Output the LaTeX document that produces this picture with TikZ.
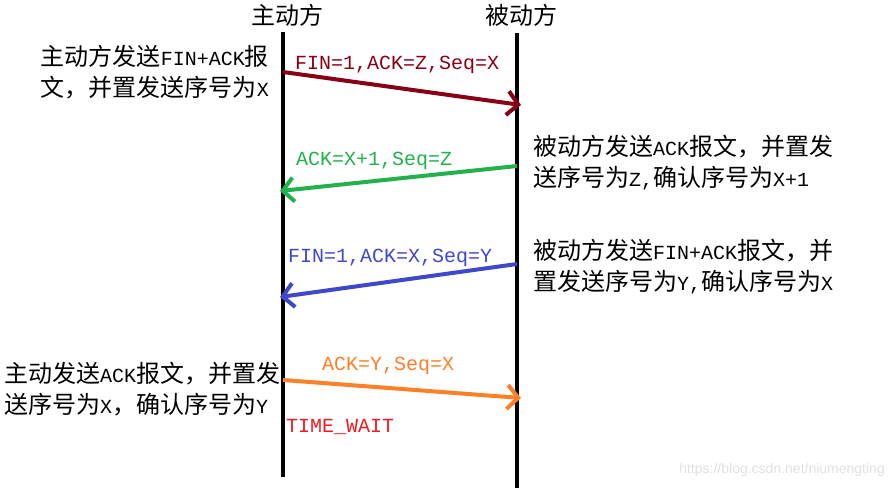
\documentclass[tikz,border=0pt]{standalone}
\usepackage{fontspec}
\setmainfont{Liberation Mono}
\newfontfamily\cjk{Noto Sans CJK SC}
\newfontfamily\wmfont{Liberation Sans}
\usetikzlibrary{arrows.meta}
\definecolor{fincolor}{HTML}{880015}
\definecolor{ackcolor}{HTML}{22B14C}
\definecolor{fin2color}{HTML}{3F48CC}
\definecolor{lastcolor}{HTML}{FF7F27}
\definecolor{waitcolor}{HTML}{ED1C24}
\newcommand{\zh}[1]{{\cjk\fontsize{24}{31}\selectfont #1}}

\begin{document}
\begin{tikzpicture}[
    x=1pt, y=-1pt,
    every node/.style={inner sep=0pt, font=\fontsize{20}{31}\selectfont},
    actor/.style={font=\cjk\fontsize{24}{31}\selectfont},
    note/.style={align=left},
    msg/.style={anchor=base west},
    life/.style={line width=4.5pt},
    arr/.style={line width=4pt, -{Straight Barb[length=11pt, width=24pt]}}
]
    \useasboundingbox (0,0) rectangle (893,489);

    % Lifelines
    \node[actor] (act) at (287,15) {主动方};
    \node[actor] (pas) at (521,15) {被动方};
    \coordinate (acttop) at (283,32);
    \coordinate (actbot) at (283,477);
    \coordinate (pastop) at (517,33);
    \coordinate (pasbot) at (517,488);
    \draw[life] (acttop) -- (actbot);
    \draw[life] (pastop) -- (pasbot);

    % Message ends
    \coordinate (m1s) at (283,72);  \coordinate (m1e) at (521,105);
    \coordinate (m2s) at (517,166); \coordinate (m2e) at (280,191);
    \coordinate (m3s) at (517,264); \coordinate (m3e) at (280,297);
    \coordinate (m4s) at (283,380); \coordinate (m4e) at (521,398);

    % Messages
    \draw[arr, fincolor] (m1s) -- (m1e);
    \draw[arr, ackcolor] (m2s) -- (m2e);
    \draw[arr, fin2color] (m3s) -- (m3e);
    \draw[arr, lastcolor] (m4s) -- (m4e);

    % Message labels
    \node[msg, text=fincolor] (l1) at (295,70) {FIN=1,ACK=Z,Seq=X};
    \node[msg, text=ackcolor] (l2) at (296,166) {ACK=X+1,Seq=Z};
    \node[msg, text=fin2color] (l3) at (288,262) {FIN=1,ACK=X,Seq=Y};
    \node[msg, text=lastcolor] (l4) at (322,370) {ACK=Y,Seq=X};
    \node[msg, text=waitcolor] (wait) at (286,432) {TIME\_WAIT};

    % Notes
    \node[note, anchor=east] (n1) at (269,72.5)
        {\zh{主动方发送}FIN+ACK\zh{报}\\\zh{文，并置发送序号为}X};
    \node[note, anchor=west] (n2) at (533,162.5)
        {\zh{被动方发送}ACK\zh{报文，并置发}\\\zh{送序号为}Z,\zh{确认序号为}X+1};
    \node[note, anchor=west] (n3) at (533,266.5)
        {\zh{被动方发送}FIN+ACK\zh{报文，并}\\\zh{置发送序号为}Y,\zh{确认序号为}X};
    \node[note, anchor=west] (n4) at (4,389.5)
        {\zh{主动发送}ACK\zh{报文，并置发}\\\zh{送序号为}X\zh{，确认序号为}Y};

    % Watermark
    \node[font=\wmfont\fontsize{14}{16}\selectfont, text=black!12, anchor=east] (wm)
        at (885,470) {https://blog.csdn.net/niumengting};
\end{tikzpicture}
\end{document}
